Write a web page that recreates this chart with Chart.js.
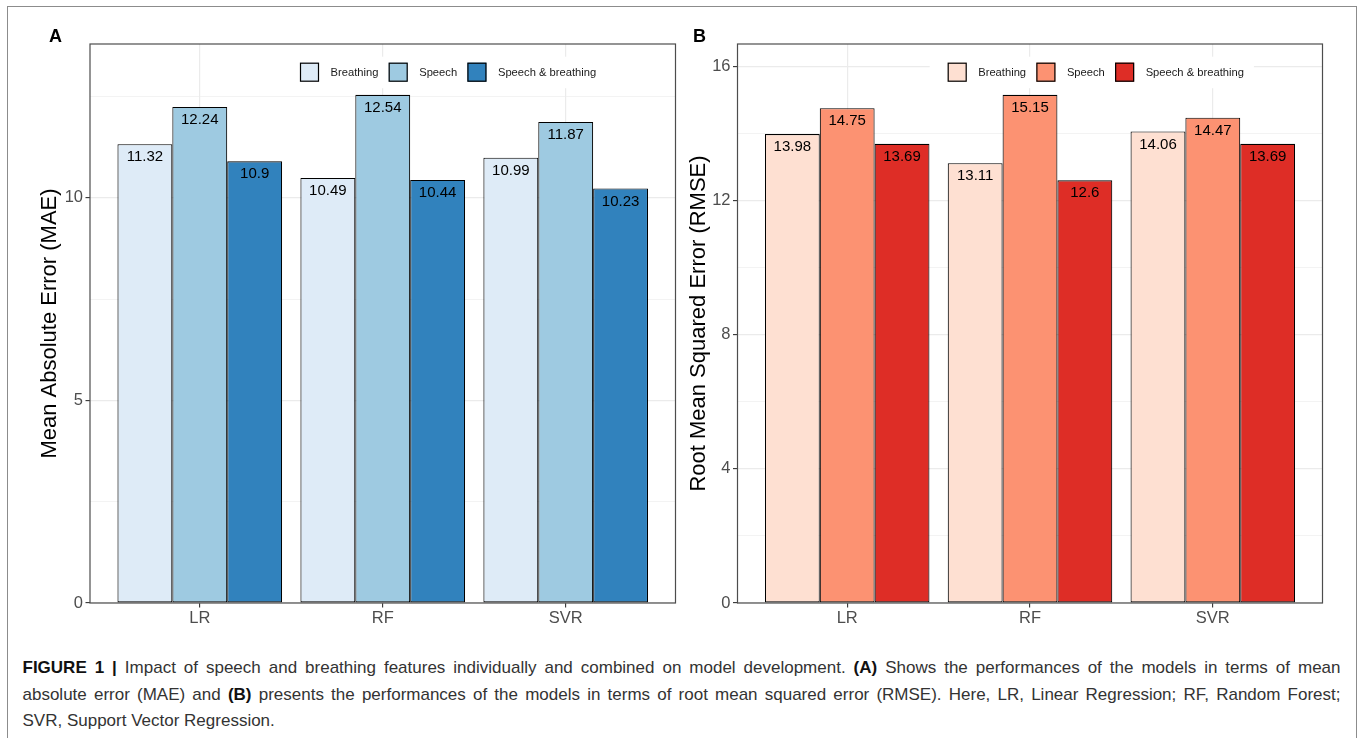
<!DOCTYPE html>
<html>
<head>
<meta charset="utf-8">
<title>Figure 1</title>
<script src="https://cdn.jsdelivr.net/npm/chart.js@4.4.1/dist/chart.umd.min.js"></script>
<style>
  html, body { margin: 0; padding: 0; background: #fff; width: 1357px; height: 738px; overflow: hidden; }
  #frame { position: absolute; left: 7px; top: 6px; width: 1350px; height: 800px; border: 1px solid #8c8c8c; box-sizing: border-box; }
  canvas { position: absolute; top: 0; }
  #chartA { left: 0; }
  #chartB { left: 680px; }
  .tag { position: absolute; top: 27px; font: bold 18px/18px "Liberation Sans", Arial, sans-serif; color: #000; }
  #caption { position: absolute; left: 22.5px; top: 655px; width: 1318px; font-family: "Liberation Sans", Arial, sans-serif; font-size: 17px; color: #333; }
  #caption .line { line-height: 26.5px; white-space: nowrap; }
  #caption .just { text-align: justify; text-align-last: justify; }
  #caption b { color: #111; }
</style>
</head>
<body>
<div id="frame"></div>
<canvas id="chartA" width="680" height="650"></canvas>
<canvas id="chartB" width="677" height="650"></canvas>
<div class="tag" style="left:49px">A</div>
<div class="tag" style="left:693px">B</div>
<div id="caption">
  <div class="line just"><b>FIGURE 1 |</b> Impact of speech and breathing features individually and combined on model development. <b>(A)</b> Shows the performances of the models in terms of mean</div>
  <div class="line just">absolute error (MAE) and <b>(B)</b> presents the performances of the models in terms of root mean squared error (RMSE). Here, LR, Linear Regression; RF, Random Forest;</div>
  <div class="line">SVR, Support Vector Regression.</div>
</div>
<script>
const models = ["LR", "RF", "SVR"];
const featureSets = ["Breathing", "Speech", "Speech & breathing"];

const maeBreathing = [11.32, 10.49, 10.99];
const maeSpeech = [12.24, 12.54, 11.87];
const maeCombined = [10.9, 10.44, 10.23];

const rmseBreathing = [13.98, 13.11, 14.06];
const rmseSpeech = [14.75, 15.15, 14.47];
const rmseCombined = [13.69, 12.6, 13.69];

// major + minor grid positions, labels only on the major ones
const maeTicks = [0, 2.5, 5, 7.5, 10, 12.5];
const maeTickLabels = ["0", "", "5", "", "10", ""];
const rmseTicks = [0, 2, 4, 6, 8, 10, 12, 14, 16];
const rmseTickLabels = ["0", "", "4", "", "8", "", "12", "", "16"];

const blues = ["#DEEBF7", "#9ECAE1", "#3182BD"];
const reds = ["#FEE0D2", "#FC9272", "#DE2D26"];

const FONT = "'Liberation Sans', Arial, Helvetica, sans-serif";

const barLabels = {
  id: "barLabels",
  afterDatasetsDraw(chart) {
    const ctx = chart.ctx;
    ctx.save();
    ctx.font = "15px " + FONT;
    ctx.fillStyle = "#000";
    ctx.textAlign = "center";
    ctx.textBaseline = "middle";
    chart.data.datasets.forEach((ds, i) => {
      chart.getDatasetMeta(i).data.forEach((bar, j) => {
        ctx.fillText(String(ds.data[j].y), bar.x, bar.y + 13);
      });
    });
    ctx.restore();
  }
};

const insetLegend = {
  id: "insetLegend",
  afterDatasetsDraw(chart, args, opts) {
    const ctx = chart.ctx;
    const box = 19, gap = 11.5, sep = 10.3;
    ctx.save();
    ctx.font = "11.2px " + FONT;
    const items = chart.data.datasets.map(ds => ({
      text: ds.label, color: ds.backgroundColor, w: ctx.measureText(ds.label).width
    }));
    const total = items.reduce((s, it) => s + box + gap + it.w, 0) + sep * (items.length - 1);
    ctx.fillStyle = "#fff";
    ctx.fillRect(opts.x - 18, opts.y - 6, total + 28, box + 12.5);
    let x = opts.x;
    items.forEach(it => {
      ctx.fillStyle = it.color;
      ctx.fillRect(x, opts.y, box, box);
      ctx.strokeStyle = "#000";
      ctx.lineWidth = 1.2;
      ctx.strokeRect(x + 0.5, opts.y + 0.5, box - 1, box - 1);
      ctx.fillStyle = "#1a1a1a";
      ctx.textAlign = "left";
      ctx.textBaseline = "middle";
      ctx.fillText(it.text, x + box + gap, opts.y + box / 2 + 0.5);
      x += box + gap + it.w + sep;
    });
    ctx.restore();
  }
};

const panelBorder = {
  id: "panelBorder",
  afterDraw(chart) {
    const { ctx, chartArea: a } = chart;
    ctx.save();
    ctx.strokeStyle = "#4d4d4d";
    ctx.lineWidth = 1.2;
    ctx.strokeRect(a.left, a.top, a.right - a.left, a.bottom - a.top);
    ctx.restore();
  }
};

function makePanel(id, series, colors, yTitle, tickValues, tickLabels, lay) {
  const all = series.flat();
  new Chart(document.getElementById(id), {
    type: "bar",
    data: {
      datasets: series.map((vals, k) => ({
        label: featureSets[k],
        data: vals.map((v, i) => ({ x: i + 1, y: v })),
        backgroundColor: colors[k],
        borderColor: "#000",
        borderWidth: 1.1,
        borderSkipped: false,
        categoryPercentage: 0.9,
        barPercentage: 1.0
      }))
    },
    options: {
      responsive: false,
      animation: false,
      layout: { padding: { top: 44, left: 0, right: lay.right, bottom: 0 } },
      plugins: {
        legend: { display: false },
        tooltip: { enabled: false },
        insetLegend: { x: lay.legendX, y: 62.7 }
      },
      scales: {
        x: {
          type: "linear",
          offset: false,
          min: 0.4,
          max: 3.6,
          afterBuildTicks: s => { s.ticks = models.map((m, i) => ({ value: i + 1 })); },
          afterFit: s => { s.height = 47; },
          ticks: {
            callback: v => models[Math.round(v) - 1],
            color: "#4d4d4d",
            font: { family: FONT, size: 16.5 },
            padding: 1,
            maxRotation: 0,
            autoSkip: false
          },
          grid: { offset: false, color: "#ebebeb", lineWidth: 1.2, tickLength: 4.5, tickColor: "#333", tickWidth: 1.1 },
          border: { display: false }
        },
        y: {
          min: 0,
          max: Math.max(...all) * 1.1,
          afterBuildTicks: s => { s.ticks = tickValues.map(v => ({ value: v })); },
          afterFit: s => { s.width = lay.yWidth; },
          ticks: {
            callback: (v, i) => tickLabels[i],
            color: "#4d4d4d",
            font: { family: FONT, size: 16.5 },
            padding: 2.5
          },
          grid: {
            color: "#ebebeb",
            lineWidth: c => (tickLabels[c.index] ? 1.2 : 0.6),
            tickLength: 4.5,
            tickWidth: 1.1,
            tickColor: c => (tickLabels[c.index] ? "#333" : "rgba(0,0,0,0)")
          },
          title: {
            display: true,
            text: yTitle,
            color: "#000",
            font: { family: FONT, size: 22 },
            padding: { top: lay.titlePad, bottom: 0 }
          },
          border: { display: false }
        }
      }
    },
    plugins: [barLabels, insetLegend, panelBorder]
  });
}

makePanel("chartA", [maeBreathing, maeSpeech, maeCombined], blues,
  "Mean Absolute Error (MAE)", maeTicks, maeTickLabels,
  { right: 4.5, yWidth: 90, titlePad: 36.8, legendX: 300 });

makePanel("chartB", [rmseBreathing, rmseSpeech, rmseCombined], reds,
  "Root Mean Squared Error (RMSE)", rmseTicks, rmseTickLabels,
  { right: 34.5, yWidth: 57.5, titlePad: 5.8, legendX: 267.7 });
</script>
</body>
</html>
